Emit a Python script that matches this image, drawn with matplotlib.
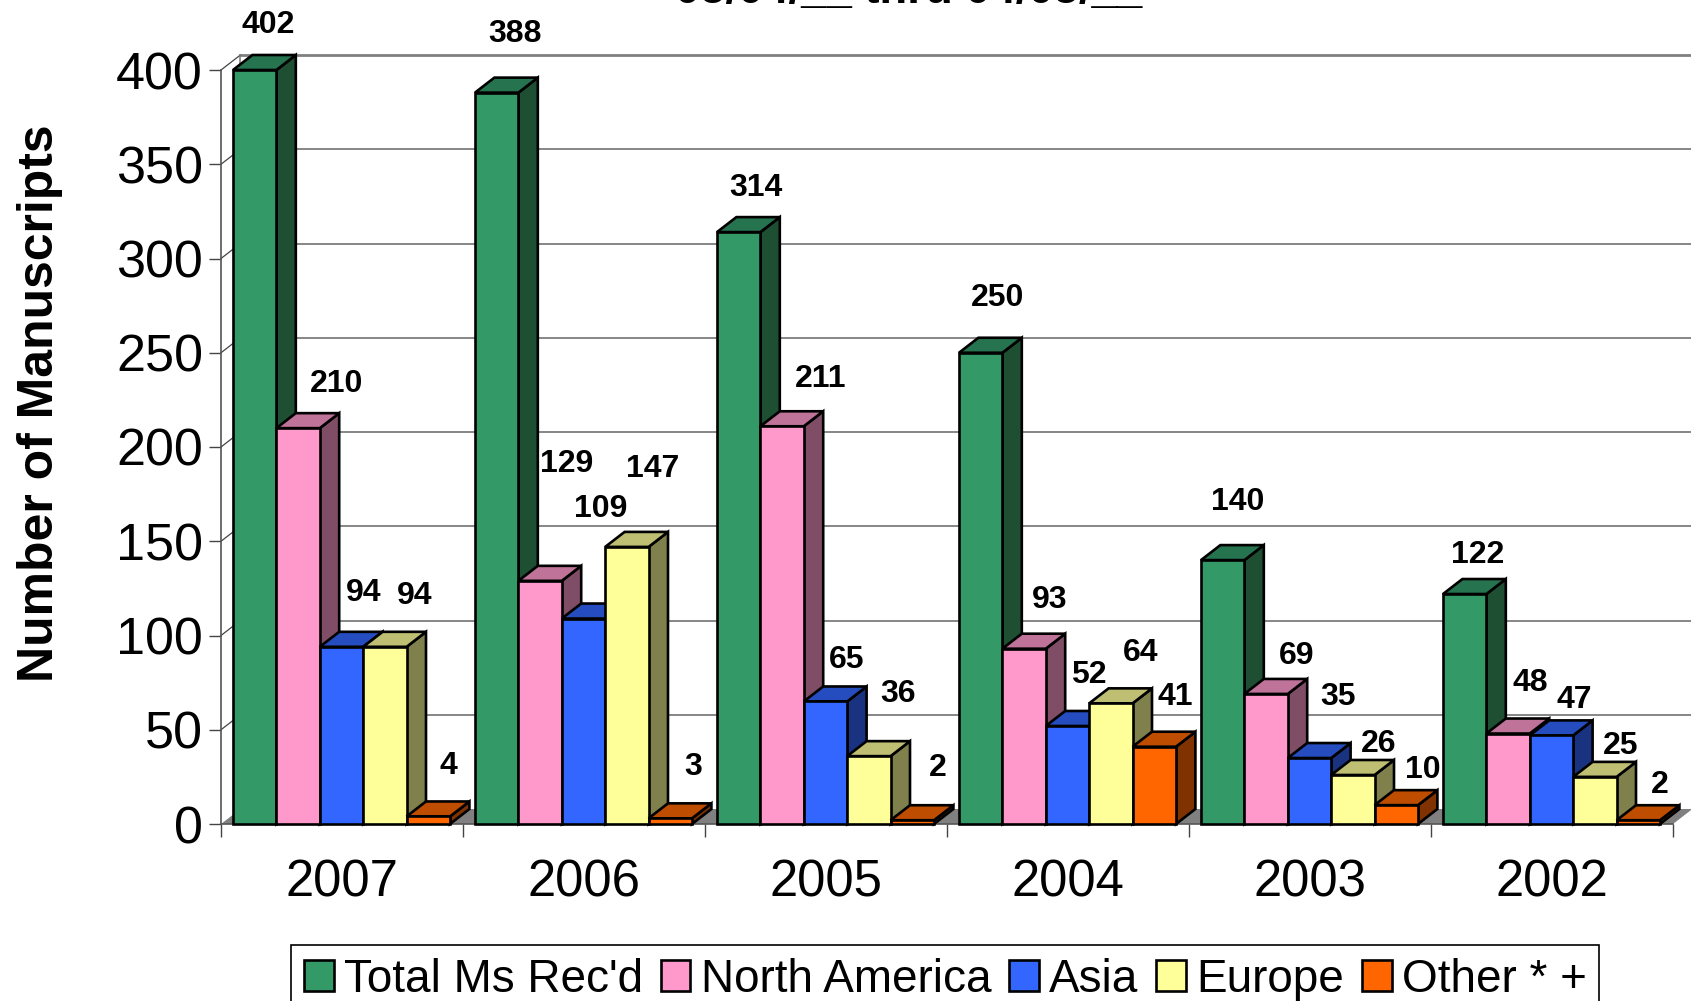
import matplotlib
matplotlib.use("Agg")
import matplotlib.pyplot as plt
from matplotlib.patches import Polygon, Patch
from matplotlib.ticker import NullFormatter

plt.rcParams['font.family'] = ['Liberation Sans', 'DejaVu Sans']

years = ['2007', '2006', '2005', '2004', '2003', '2002']
series_names = ['Total Ms Rec\'d', 'North America', 'Asia', 'Europe', 'Other * +']
total = [402, 388, 314, 250, 140, 122]
north_america = [210, 129, 211, 93, 69, 48]
asia = [94, 109, 65, 52, 35, 47]
europe = [94, 147, 36, 64, 26, 25]
other = [4, 3, 2, 41, 10, 2]
series = [total, north_america, asia, europe, other]
y_ticks = [0, 50, 100, 150, 200, 250, 300, 350, 400]
title = '05/04/__ thru 04/05/__'
y_label = 'Number of Manuscripts'

front = ['#339966', '#FF99CC', '#3366FF', '#FFFF99', '#FF6600']
top_c = ['#267350', '#BF7399', '#264DBF', '#BFBF73', '#BF4D00']
side_c = ['#1E4F33', '#804D66', '#1A3380', '#80804D', '#803300']

# label offsets from each bar's front top-left corner (reference pixels at 1568 wide)
label_offsets = [
    [(33, 44), (56, 43), (41, 52), (48, 49), (39, 49)],
    [(37, 56), (45, 110), (36, 104), (44, 74), (41, 50)],
    [(36, 43), (56, 46), (40, 40), (47, 60), (44, 50)],
    [(36, 53), (44, 47), (40, 49), (48, 49), (40, 48)],
    [(34, 56), (48, 37), (47, 59), (44, 31), (45, 35)],
    [(32, 38), (41, 49), (41, 35), (44, 31), (40, 35)],
]
SCALE = 1691 / 1568

W, H = 1691, 1001
fig = plt.figure(figsize=(W / 100, H / 100), dpi=100, facecolor='white')
L, R, T, B = 221, 1673, 70, 824
ax = fig.add_axes([L / W, 1 - B / H, (R - L) / W, (B - T) / H])
ax.set_xlim(0, 6)
ax.set_ylim(0, 400)
ax.patch.set_visible(False)
for s in ('top', 'right'):
    ax.spines[s].set_visible(False)
for s in ('left', 'bottom'):
    ax.spines[s].set_color('#555555')
    ax.spines[s].set_linewidth(1.2)

px_x = 6 / (R - L)
px_y = 400 / (B - T)
dx = 19.4 * px_x
dy = 15 * px_y
bar_w = 43.4 * px_x
offset = 12 * px_x
EDGE = 1.9

# back wall and floor
ax.add_patch(Polygon([(0, 0), (6, 0), (6 + dx, dy), (dx, dy)], closed=True,
                     fc='#808080', ec='none', zorder=1, clip_on=False))
for v in y_ticks[1:]:
    col = '#808080' if v == 400 else '#666666'
    lw = 2.0 if v == 400 else 1.1
    ax.plot([dx, 6 + dx], [v + dy, v + dy], color=col, lw=lw, zorder=1, clip_on=False)
    ax.plot([0, dx], [v, v + dy], color='#444444', lw=0.9, zorder=1, clip_on=False)
ax.plot([dx, dx], [dy, 400 + dy], color='#808080', lw=1.2, zorder=1, clip_on=False)
ax.plot([6 + dx, 6 + dx], [dy, 400 + dy], color='#808080', lw=1.2, zorder=1, clip_on=False)

z = 3
for i in range(len(years)):
    for j, vals in enumerate(series):
        v = vals[i]
        h = min(v, 400)
        x0 = i + offset + j * bar_w
        x1 = x0 + bar_w
        ax.add_patch(Polygon([(x1, 0), (x1 + dx, dy), (x1 + dx, h + dy), (x1, h)], closed=True,
                             fc=side_c[j], ec='black', lw=EDGE, joinstyle='miter', zorder=z, clip_on=False))
        ax.add_patch(Polygon([(x0, h), (x1, h), (x1 + dx, h + dy), (x0 + dx, h + dy)], closed=True,
                             fc=top_c[j], ec='black', lw=EDGE, joinstyle='miter', zorder=z, clip_on=False))
        ax.add_patch(Polygon([(x0, 0), (x1, 0), (x1, h), (x0, h)], closed=True,
                             fc=front[j], ec='black', lw=EDGE, joinstyle='miter', zorder=z, clip_on=False))
        z += 1
        ox, oy = label_offsets[i][j]
        ax.annotate(str(v), xy=(x0, h), xytext=(ox * SCALE, (oy - 2) * SCALE), textcoords='offset pixels',
                    ha='center', va='center', fontsize=23, fontweight='bold', color='black',
                    zorder=200, annotation_clip=False)

ax.set_yticks(y_ticks)
ax.tick_params(axis='y', length=9, width=1.0, color='#444444', pad=4, labelsize=37.5)
ax.set_xticks(range(7))
ax.xaxis.set_major_formatter(NullFormatter())
ax.tick_params(axis='x', which='major', length=9, width=1.0, color='#444444')
ax.set_xticks([k + 0.5 for k in range(6)], minor=True)
ax.set_xticklabels(years, minor=True)
ax.tick_params(axis='x', which='minor', length=0, pad=25, labelsize=36.6)

ax.set_ylabel(y_label, fontsize=35.9, fontweight='bold')
ax.yaxis.set_label_coords((63 - L) / (R - L), (B - 403) / (B - T))

fig.text(909 / W, 1 - 3 / H, title, ha='center', va='baseline', fontsize=32.7,
         fontweight='bold', color='black')

handles = [Patch(fc=front[j], ec='black', lw=1.9) for j in range(5)]
leg = fig.legend(handles, series_names, loc='upper left', bbox_to_anchor=(291 / W, 1 - 945 / H),
                 ncol=5, fontsize=33, frameon=True, fancybox=False, edgecolor='black',
                 framealpha=1, borderpad=0.28, handlelength=0.65, handleheight=0.65,
                 handletextpad=0.22, columnspacing=0.39, borderaxespad=0)
leg.get_frame().set_linewidth(1.2)

fig.savefig('out.png', dpi=100)
